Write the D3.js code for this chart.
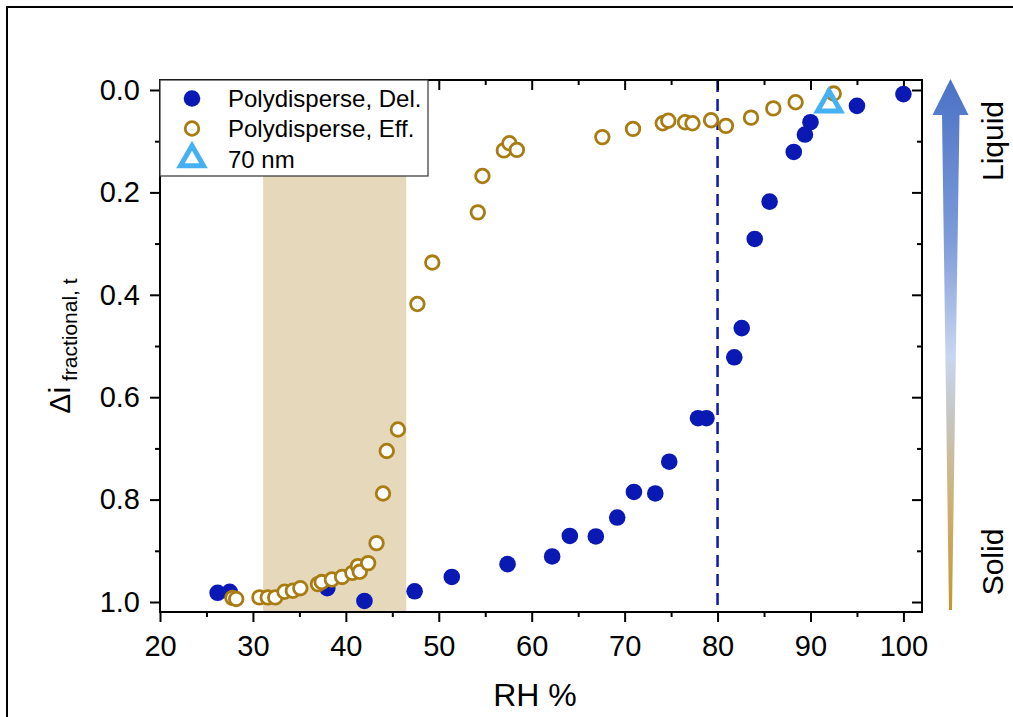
<!DOCTYPE html>
<html><head><meta charset="utf-8">
<script src="https://cdn.jsdelivr.net/npm/d3@7"></script>
<style>
html,body{margin:0;padding:0;background:#fff;}
svg{display:block;font-family:"Liberation Sans",Arial,sans-serif;}
</style></head>
<body>
<svg id="chart" width="1013" height="717"></svg>
<script>
// ---- data ----
const delX = [26.2, 27.5, 38.0, 42.0, 47.4, 51.4, 57.4, 62.2, 64.1, 66.9, 69.2, 71.0, 73.3, 74.8, 77.9, 78.8, 81.8, 82.6, 84.0, 85.6, 88.2, 89.4, 90.0, 95.0, 100.0];
const delY = [0.982, 0.980, 0.973, 0.998, 0.979, 0.951, 0.926, 0.911, 0.871, 0.872, 0.835, 0.785, 0.788, 0.726, 0.641, 0.641, 0.522, 0.465, 0.291, 0.218, 0.121, 0.087, 0.063, 0.031, 0.008];
const effX = [27.8, 28.2, 30.7, 31.6, 32.4, 33.4, 34.3, 35.1, 37.0, 37.4, 38.5, 39.6, 40.7, 41.3, 41.5, 42.4, 43.3, 44.0, 44.4, 45.6, 47.7, 49.3, 54.2, 54.7, 57.0, 57.6, 58.4, 67.6, 70.9, 74.1, 74.7, 76.5, 77.3, 79.3, 80.9, 83.6, 86.0, 88.4, 92.5];
const effY = [0.992, 0.994, 0.991, 0.991, 0.991, 0.980, 0.978, 0.973, 0.965, 0.961, 0.956, 0.951, 0.943, 0.930, 0.941, 0.924, 0.885, 0.788, 0.705, 0.663, 0.418, 0.337, 0.239, 0.168, 0.118, 0.104, 0.117, 0.092, 0.076, 0.065, 0.060, 0.063, 0.065, 0.059, 0.070, 0.054, 0.036, 0.024, 0.007];
const nmX = [92.0];
const nmY = [0.028];
const shadeRange = [31.1, 46.5];
const dashX = 80;
const xTicks = [20, 30, 40, 50, 60, 70, 80, 90, 100];
const yTicks = [0.0, 0.2, 0.4, 0.6, 0.8, 1.0];
const legendLabels = ["Polydisperse, Del.", "Polydisperse, Eff.", "70 nm"];

// ---- layout ----
const L = 160, R = 922, T = 80, B = 612;
const svg = d3.select("#chart");
const x = d3.scaleLinear().domain([20, 102]).range([L, R]);
const y = d3.scaleLinear().domain([-0.0195, 1.0195]).range([T, B]);

const blue = "#0a18b4", gold = "#a97c12", tri = "#45b1f2";

// outer frame
svg.append("rect").attr("x", 0).attr("y", 0).attr("width", 1013).attr("height", 717).attr("fill", "#fff");
svg.append("rect").attr("x", 7).attr("y", 7).attr("width", 1020).attr("height", 730)
  .attr("fill", "none").attr("stroke", "#000").attr("stroke-width", 2);

// shaded region
svg.append("rect").attr("x", x(shadeRange[0])).attr("y", T)
  .attr("width", x(shadeRange[1]) - x(shadeRange[0])).attr("height", B - T)
  .attr("fill", "#e6d9bb");

// dashed line
svg.append("line").attr("x1", x(dashX)).attr("x2", x(dashX)).attr("y1", T).attr("y2", B)
  .attr("stroke", blue).attr("stroke-width", 2.5).attr("stroke-dasharray", "12,7");

// axes
const fs = 29;
function styleAxis(g, labels) {
  g.select(".domain").remove();
  g.selectAll("line").attr("stroke", "#000").attr("stroke-width", 2);
  g.selectAll("text").attr("font-size", fs).attr("fill", "#000")
    .attr("font-family", "Liberation Sans, Arial, sans-serif");
  if (!labels) g.selectAll("text").remove();
}
const xMinor = d3.range(25, 101, 10);
const yMinor = [0.1, 0.3, 0.5, 0.7, 0.9];

// bottom
svg.append("g").attr("transform", `translate(0,${B})`)
  .call(d3.axisBottom(x).tickValues(xTicks).tickSize(10).tickPadding(13).tickFormat(d3.format("d")))
  .call(g => styleAxis(g, true));
svg.append("g").attr("transform", `translate(0,${B})`)
  .call(d3.axisBottom(x).tickValues(xMinor).tickSize(5)).call(g => styleAxis(g, false));
// top (inward)
svg.append("g").attr("transform", `translate(0,${T})`)
  .call(d3.axisBottom(x).tickValues(xTicks).tickSize(10)).call(g => styleAxis(g, false));
svg.append("g").attr("transform", `translate(0,${T})`)
  .call(d3.axisBottom(x).tickValues(xMinor).tickSize(5)).call(g => styleAxis(g, false));
// left
svg.append("g").attr("transform", `translate(${L},0)`)
  .call(d3.axisLeft(y).tickValues(yTicks).tickSize(10).tickPadding(10).tickFormat(d3.format(".1f")))
  .call(g => styleAxis(g, true));
svg.append("g").attr("transform", `translate(${L},0)`)
  .call(d3.axisLeft(y).tickValues(yMinor).tickSize(5)).call(g => styleAxis(g, false));
// right (inward)
svg.append("g").attr("transform", `translate(${R},0)`)
  .call(d3.axisLeft(y).tickValues(yTicks).tickSize(10)).call(g => styleAxis(g, false));
svg.append("g").attr("transform", `translate(${R},0)`)
  .call(d3.axisLeft(y).tickValues(yMinor).tickSize(5)).call(g => styleAxis(g, false));

// frame
svg.append("rect").attr("x", L).attr("y", T).attr("width", R - L).attr("height", B - T)
  .attr("fill", "none").attr("stroke", "#000").attr("stroke-width", 2);

// data
const delData = delX.map((d, i) => [d, delY[i]]);
const effData = effX.map((d, i) => [d, effY[i]]);
svg.append("g").selectAll("circle").data(delData).join("circle")
  .attr("cx", d => x(d[0])).attr("cy", d => y(d[1])).attr("r", 8.3).attr("fill", blue);
svg.append("g").selectAll("circle").data(effData).join("circle")
  .attr("cx", d => x(d[0])).attr("cy", d => y(d[1])).attr("r", 6.8)
  .attr("fill", "#fff").attr("stroke", gold).attr("stroke-width", 2.8);

function triPath(cx, cy) {
  const s = 23, h = s * Math.sqrt(3) / 2;
  return `M${cx},${cy - 2 * h / 3}L${cx - s / 2},${cy + h / 3}L${cx + s / 2},${cy + h / 3}Z`;
}
svg.append("g").selectAll("path").data(nmX.map((d, i) => [d, nmY[i]])).join("path")
  .attr("d", d => triPath(x(d[0]), y(d[1])))
  .attr("fill", "none").attr("stroke", tri).attr("stroke-width", 5).attr("stroke-linejoin", "miter");

// legend
const lg = svg.append("g");
lg.append("rect").attr("x", L).attr("y", T).attr("width", 428 - L).attr("height", 176 - T)
  .attr("fill", "#fff").attr("stroke", "#333").attr("stroke-width", 1.2);
const rowsY = [98.5, 128.5, 159];
lg.append("circle").attr("cx", 192).attr("cy", rowsY[0]).attr("r", 8.3).attr("fill", blue);
lg.append("circle").attr("cx", 192).attr("cy", rowsY[1]).attr("r", 6.8).attr("fill", "#fff")
  .attr("stroke", gold).attr("stroke-width", 2.8);
lg.append("path").attr("d", triPath(192, rowsY[2])).attr("fill", "none")
  .attr("stroke", tri).attr("stroke-width", 5);
legendLabels.forEach((t, i) => {
  lg.append("text").attr("x", 228).attr("y", rowsY[i] + 8.5).attr("font-size", 24)
    .attr("fill", "#000").text(t);
});

// axis titles
svg.append("text").attr("x", (L + R) / 2 - 6).attr("y", 706).attr("text-anchor", "middle")
  .attr("font-size", 32).attr("fill", "#000").text("RH %");
const yt = svg.append("text").attr("transform", "translate(70,346) rotate(-90)")
  .attr("text-anchor", "middle").attr("fill", "#000");
yt.append("tspan").attr("font-size", 30).text("\u0394i");
yt.append("tspan").attr("font-size", 21).attr("dy", 7).text(" fractional, t");

// phase arrow
const defs = svg.append("defs");
const grad = defs.append("linearGradient").attr("id", "ag").attr("gradientUnits", "userSpaceOnUse")
  .attr("x1", 0).attr("x2", 0).attr("y1", 79).attr("y2", 612);
[[0, "#4a72c6"], [0.3, "#7d9bd8"], [0.52, "#c9d6f0"], [0.64, "#c6c6c0"], [0.78, "#cdb37a"], [1, "#c4952c"]]
  .forEach(s => grad.append("stop").attr("offset", s[0]).attr("stop-color", s[1]));
const ax = 950.5;
svg.append("path")
  .attr("d", `M${ax},79 L${ax + 18},115 L${ax + 9},115 L${ax + 1.5},610 L${ax - 1.5},610 L${ax - 8.5},115 L${ax - 18},115 Z`)
  .attr("fill", "url(#ag)");
svg.append("text").attr("transform", "translate(1003,141) rotate(-90)").attr("text-anchor", "middle")
  .attr("font-size", 30).attr("fill", "#000").text("Liquid");
svg.append("text").attr("transform", "translate(1003,562) rotate(-90)").attr("text-anchor", "middle")
  .attr("font-size", 30).attr("fill", "#000").text("Solid");
</script>
</body></html>
